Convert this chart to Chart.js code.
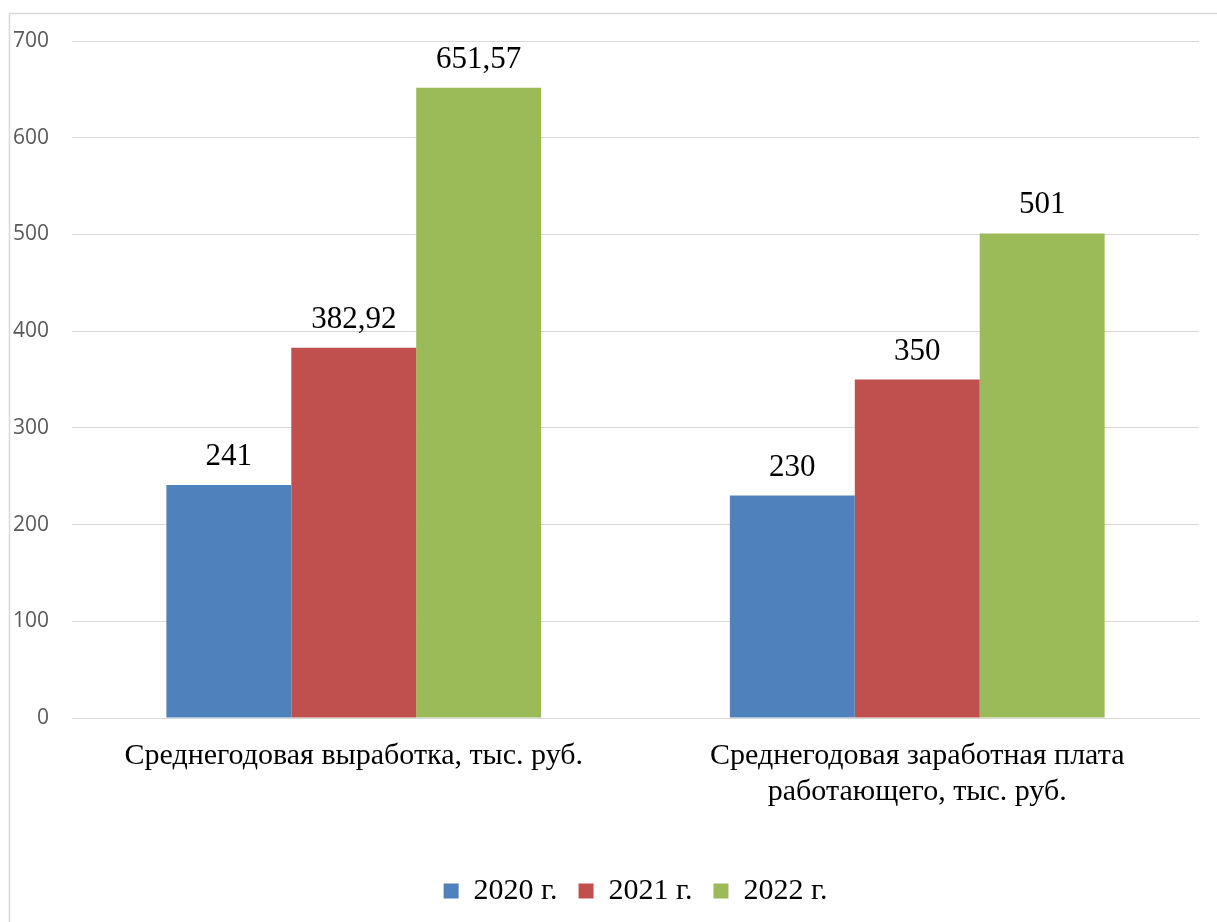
<!DOCTYPE html>
<html>
<head>
<meta charset="utf-8">
<script src="https://cdn.jsdelivr.net/npm/chart.js@4/dist/chart.umd.min.js"></script>
<style>
html,body{margin:0;padding:0;background:#fff;}
canvas{display:block;}
</style>
</head>
<body>
<canvas id="c" width="1217" height="922"></canvas>
<script>
const categories = [
  ['Среднегодовая выработка, тыс. руб.'],
  ['Среднегодовая заработная плата', 'работающего, тыс. руб.']
];
const seriesNames = ['2020 г.', '2021 г.', '2022 г.'];
const values2020 = [241, 230];
const values2021 = [382.92, 350];
const values2022 = [651.57, 501];
const seriesColors = ['#4f81bd', '#c0504d', '#9bbb59'];
const yMax = 700;
const yStep = 100;

const serif = "'Liberation Serif', 'Times New Roman', serif";

const frame = {
  id: 'frame',
  beforeDraw(chart) {
    const ctx = chart.ctx;
    ctx.save();
    ctx.fillStyle = '#fff';
    ctx.fillRect(0, 0, chart.width, chart.height);
    ctx.strokeStyle = '#d9d9d9';
    ctx.lineWidth = 1.5;
    ctx.strokeRect(9.5, 13.5, chart.width + 50, chart.height + 50);
    ctx.restore();
  }
};

const dataLabels = {
  id: 'dataLabels',
  afterDatasetsDraw(chart) {
    const ctx = chart.ctx;
    ctx.save();
    ctx.font = '31px ' + serif;
    ctx.fillStyle = '#000';
    ctx.textAlign = 'center';
    ctx.textBaseline = 'alphabetic';
    chart.data.datasets.forEach((ds, i) => {
      const meta = chart.getDatasetMeta(i);
      meta.data.forEach((bar, j) => {
        const v = ds.data[j];
        const txt = String(v).replace('.', ',');
        ctx.fillText(txt, bar.x, bar.y - 20);
      });
    });
    ctx.restore();
  }
};

new Chart(document.getElementById('c'), {
  type: 'bar',
  data: {
    labels: categories,
    datasets: [
      { label: seriesNames[0], data: values2020, backgroundColor: seriesColors[0] },
      { label: seriesNames[1], data: values2021, backgroundColor: seriesColors[1] },
      { label: seriesNames[2], data: values2022, backgroundColor: seriesColors[2] }
    ]
  },
  options: {
    responsive: false,
    animation: false,
    devicePixelRatio: 1,
    layout: { padding: { left: 0, right: 18, top: 41, bottom: 6 } },
    datasets: { bar: { categoryPercentage: 0.665, barPercentage: 1.0, borderWidth: 0 } },
    plugins: {
      legend: {
        position: 'bottom',
        fullSize: false,
        labels: {
          boxWidth: 15,
          boxHeight: 15,
          padding: 21,
          color: '#000',
          font: { family: serif, size: 30 }
        }
      },
      tooltip: { enabled: false }
    },
    scales: {
      x: {
        grid: { display: false, drawTicks: false },
        border: { display: true, color: '#d9d9d9', width: 1 },
        ticks: {
          color: '#000',
          padding: 21,
          maxRotation: 0,
          autoSkip: false,
          font: { family: serif, size: 30, lineHeight: 1.17 }
        },
        afterFit(scale) { scale.height = 137; }
      },
      y: {
        min: 0,
        max: yMax,
        grid: { color: '#d9d9d9', lineWidth: 1, drawTicks: false },
        border: { display: false },
        ticks: {
          stepSize: yStep,
          color: '#595959',
          padding: 23,
          font: { family: "'Open Sans', sans-serif", size: 21 }
        },
        afterFit(scale) { scale.width = 72; }
      }
    }
  },
  plugins: [frame, dataLabels]
});
</script>
</body>
</html>
